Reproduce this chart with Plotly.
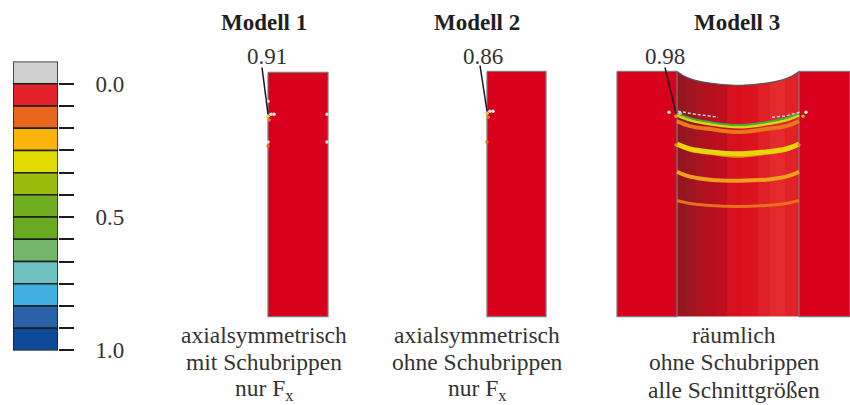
import plotly.graph_objects as go

# ---------- data ----------
bin_colors = ["#cfcfcf", "#e3222b", "#e9661f", "#fbb40c", "#e2dc00", "#9cbb0c", "#72ae22",
              "#68a921", "#74b66c", "#6dc1c0", "#3fb0e0", "#2a62a8", "#0f4a98"]
bin_starts = [-1/12] + [i / 12 for i in range(12)]
bin_size = 1 / 12
minor_ticks = [i / 12 for i in range(13)]
tick_vals = [0, 0.5, 1]
tick_text = ["0.0", "0.5", "1.0"]

titles = ["Modell 1", "Modell 2", "Modell 3"]
title_x = [264, 477, 737]
max_labels = ["0.91", "0.86", "0.98"]
max_label_x = [267, 483, 665]
leader_x = [[262, 268], [480, 487], [665, 676]]
leader_y = [[68, 115], [66, 112], [68, 114]]
captions = [["axialsymmetrisch", "mit Schubrippen", "nur F<sub>x</sub>"],
            ["axialsymmetrisch", "ohne Schubrippen", "nur F<sub>x</sub>"],
            ["räumlich", "ohne Schubrippen", "alle Schnittgrößen"]]
caption_x = [264, 477, 734]
caption_y = [337, 365, 393]

flat_x = [[268, 328], [487, 546], [617, 677], [799, 850]]
top_y = [73, 72, 72, 72]
bottom_y = 319
RED = "#d8001c"

shade_edges = [677, 686, 696, 706, 716, 727, 742, 758, 770, 785, 799]
shade_v = [0.05, 0.15, 0.30, 0.42, 0.50, 0.72, 0.78, 0.90, 1.0, 0.93]
shade_scale = [[0, "#8f1820"], [0.5, "#bd0f1f"], [0.75, "#d9101c"], [1, "#e42a2c"]]

arc_x = [677, 683, 692, 705, 720, 738, 756, 771, 784, 793, 799, 799, 677, 677]
arc_y = [72, 76, 80, 83, 85, 86, 85, 83, 80, 76, 72, 60, 60, 72]

band_x = [677, 690, 710, 738, 766, 786, 799]
bands = [
    ([122, 127, 130, 133, 130, 127, 122], "#e8781c", 4),
    ([146, 152, 155, 158, 155, 152, 146], "#ec8a1a", 2),
    ([145, 150, 153, 155, 153, 150, 145], "#e6d60c", 5),
    ([173, 178, 181, 182, 181, 178, 173], "#eda01a", 4),
    ([202, 205, 207, 208, 207, 205, 202], "#e8701c", 3),
    ([116, 121, 125, 128, 125, 121, 116], "#d8d810", 3),
    ([114, 119, 123, 126, 123, 119, 114], "#3fae3a", 2),
]
dash_left_x, dash_left_y = [678, 695, 718], [112, 115, 118]
dash_right_x, dash_right_y = [772, 785, 800], [118, 117, 113]
spot_x = [268, 269, 271, 274, 487, 488, 490, 493, 268, 487, 669, 676, 680, 803, 806, 676, 799,
          268, 268, 327, 327]
spot_y = [117, 121, 115, 115, 114, 118, 112, 112, 147, 143, 113, 117, 114, 117, 113, 146, 146,
          102, 143, 115, 143]
spot_c = ["#e6dc10", "#ea8a1a", "#e8e8e8", "#e8e8e8", "#d6d820", "#ea8a1a", "#e8e8e8", "#e8e8e8",
          "#e8701c", "#e8701c", "#e8e8e8", "#f0a010", "#c8d0d8", "#9fc020", "#e8e8e8", "#ec8a1a", "#ec8a1a",
          "#e4e4e4", "#e4e4e4", "#e4e4e4", "#e4e4e4"]

# ---------- figure ----------
W, H = 850, 405
fig = go.Figure()

fig.add_trace(go.Bar(x=[0] * 13, y=[bin_size] * 13, base=bin_starts, width=1,
                     marker=dict(color=bin_colors, line=dict(color="#1c1c1c", width=1.5)),
                     xaxis="x", yaxis="y", showlegend=False))

fig.add_trace(go.Heatmap(x=shade_edges, y=[72, bottom_y], z=[shade_v], colorscale=shade_scale,
                         zmin=0, zmax=1, showscale=False, xaxis="x2", yaxis="y2"))
for (x0, x1), y0 in zip(flat_x, top_y):
    fig.add_trace(go.Scatter(x=[x0, x1, x1, x0, x0], y=[y0, y0, bottom_y, bottom_y, y0], mode="lines",
                             fill="toself", fillcolor=RED, line=dict(color="#7a7a7a", width=1.2),
                             xaxis="x2", yaxis="y2", showlegend=False))
fig.add_trace(go.Scatter(x=arc_x, y=arc_y, mode="lines", fill="toself", fillcolor="white",
                         line=dict(color="rgba(0,0,0,0)", width=0),
                         xaxis="x2", yaxis="y2", showlegend=False))
fig.add_trace(go.Scatter(x=arc_x[:11], y=arc_y[:11], mode="lines",
                         line=dict(color="#555555", width=1.2, shape="spline"),
                         xaxis="x2", yaxis="y2", showlegend=False))
for ys, col, w in bands:
    fig.add_trace(go.Scatter(x=band_x, y=ys, mode="lines", line=dict(color=col, width=w, shape="spline"),
                             xaxis="x2", yaxis="y2", showlegend=False))
for dx, dy in [(dash_left_x, dash_left_y), (dash_right_x, dash_right_y)]:
    fig.add_trace(go.Scatter(x=dx, y=dy, mode="lines", line=dict(color="#d4d4dc", width=1.5, dash="3px,2px"),
                             xaxis="x2", yaxis="y2", showlegend=False))
fig.add_trace(go.Scatter(x=spot_x, y=spot_y, mode="markers", marker=dict(color=spot_c, size=3.5),
                         xaxis="x2", yaxis="y2", showlegend=False))
for lx, ly in zip(leader_x, leader_y):
    fig.add_trace(go.Scatter(x=lx, y=ly, mode="lines", line=dict(color="#1a1a1a", width=1.5),
                             xaxis="x2", yaxis="y2", showlegend=False))

serif = "Liberation Serif"
TXT = "#333333"
ann = []
for t, x in zip(titles, title_x):
    ann.append(dict(x=x, y=23, text=f"<b>{t}</b>", font=dict(size=23, color="#1f1f1f", family=serif)))
for t, x in zip(max_labels, max_label_x):
    ann.append(dict(x=x, y=57, text=t, font=dict(size=23, color=TXT, family=serif)))
for lines, x in zip(captions, caption_x):
    for t, y in zip(lines, caption_y):
        ann.append(dict(x=x, y=y, text=t, font=dict(size=23.5, color=TXT, family=serif)))
for a in ann:
    a.update(xref="x2", yref="y2", showarrow=False, xanchor="center", yanchor="middle")

fig.update_layout(
    width=W, height=415, margin=dict(l=0, r=0, t=0, b=0), paper_bgcolor="white", plot_bgcolor="rgba(0,0,0,0)",
    showlegend=False, annotations=ann, barmode="overlay",
    xaxis=dict(domain=[13 / W, 58 / W], range=[-0.5, 0.5], visible=False),
    yaxis=dict(domain=[1 - 353 / H, 1 - 62 / H], range=[1, -1 / 12], side="right", anchor="x",
               tickmode="array", tickvals=tick_vals, ticktext=tick_text, ticks="outside", ticklen=15,
               tickwidth=1.5, tickcolor="#1c1c1c", showgrid=False, zeroline=False, showline=False,
               minor=dict(tickmode="array", tickvals=minor_ticks, ticks="outside", ticklen=15,
                          tickwidth=1.5, tickcolor="#1c1c1c", showgrid=False),
               ticklabelstandoff=17, tickfont=dict(size=23, color=TXT, family=serif)),
    xaxis2=dict(domain=[0, 1], range=[0, W], visible=False, anchor="y2"),
    yaxis2=dict(domain=[0, 1], range=[H, 0], visible=False, anchor="x2"),
)
fig.write_html("out.html", config=dict(displayModeBar=False),
               post_script="document.body.style.margin='0';document.documentElement.style.overflow='hidden';")
